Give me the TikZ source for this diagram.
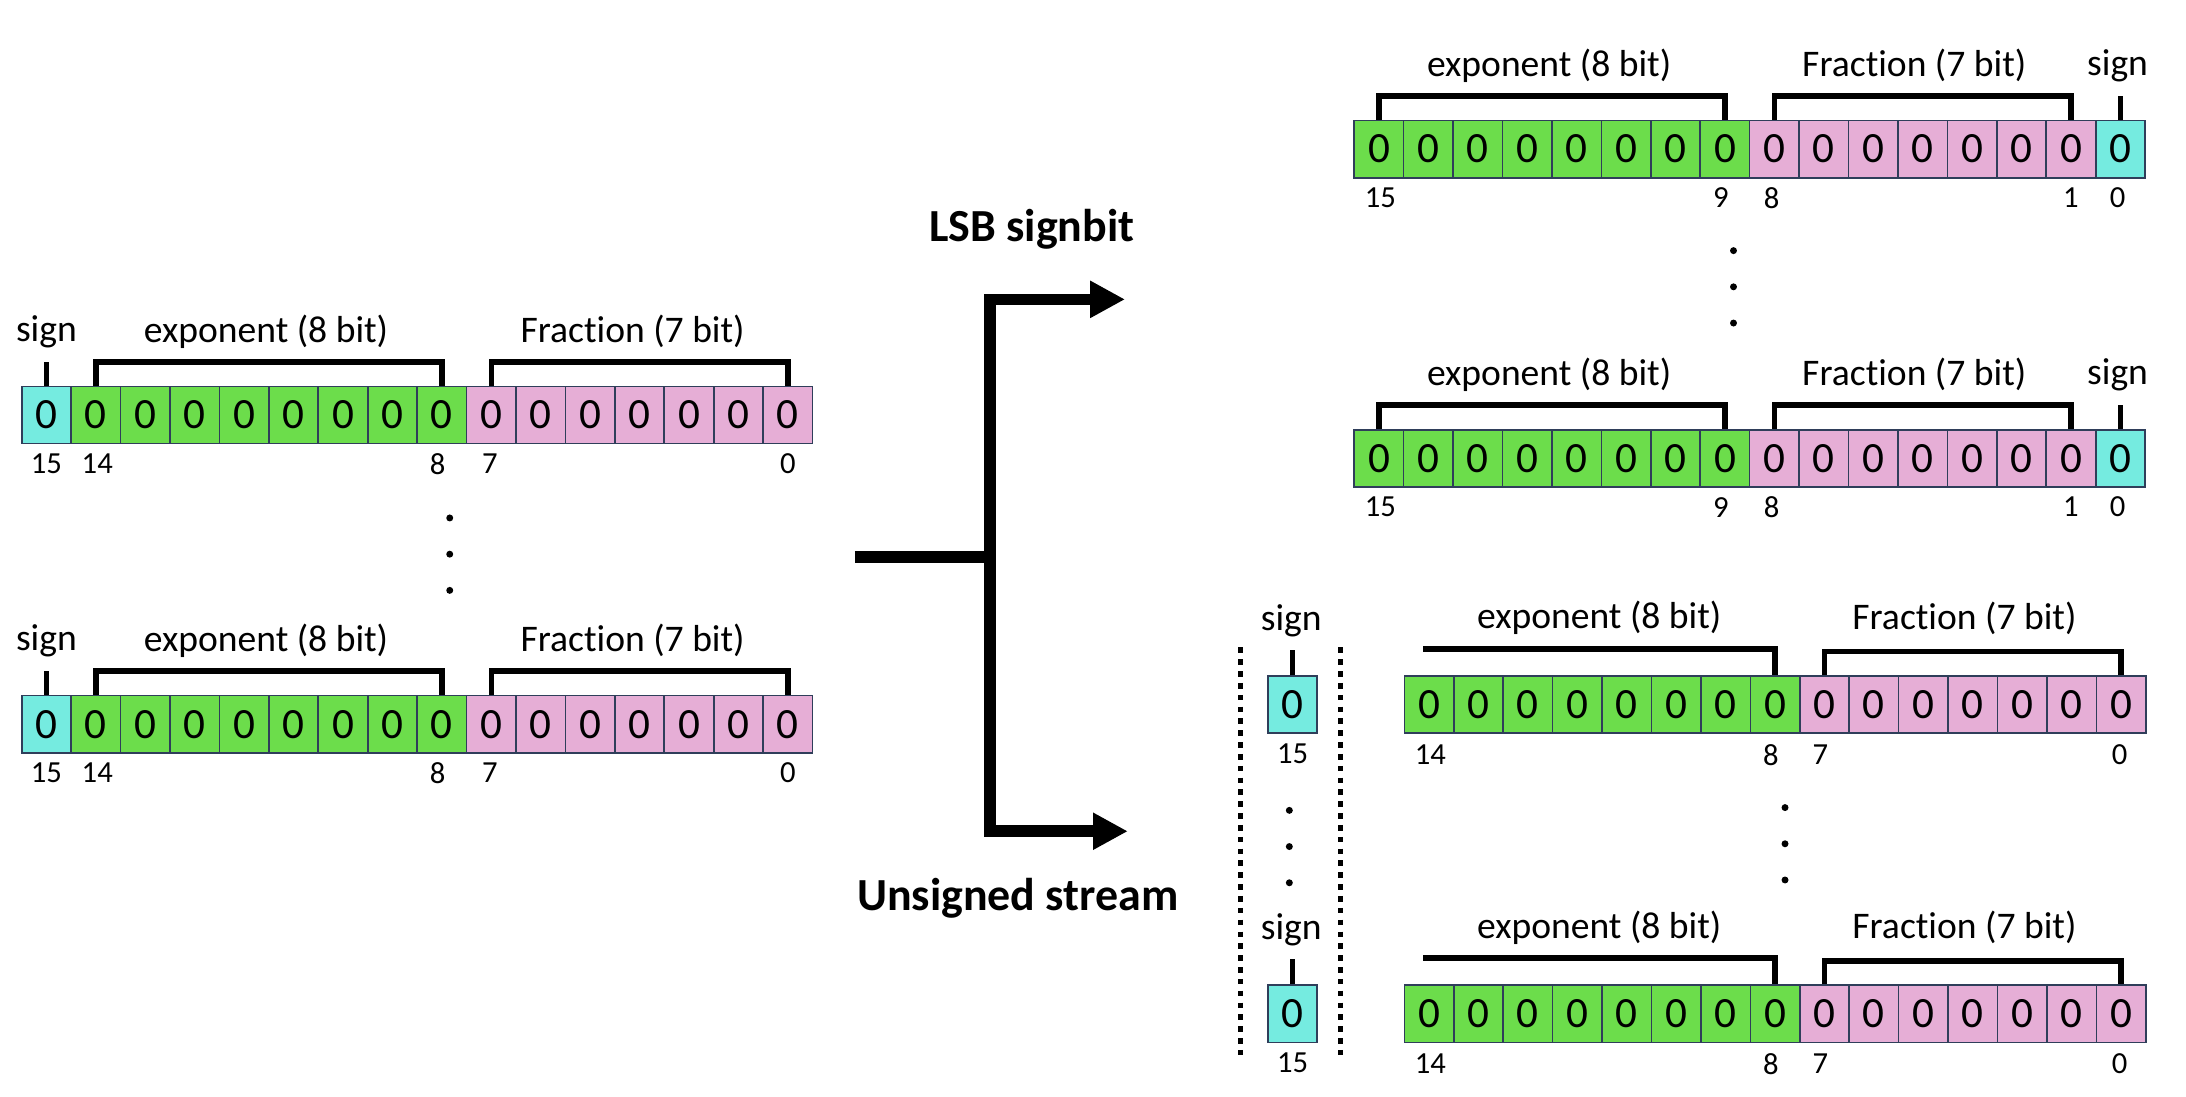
\documentclass[tikz,border=0pt]{standalone}
\usepackage{fontspec}
\setmainfont{Carlito}[Ligatures=NoCommon]
\usetikzlibrary{arrows.meta,calc}
\definecolor{cS}{HTML}{75EBE0}
\definecolor{cE}{HTML}{6CDD4B}
\definecolor{cF}{HTML}{E6AED6}
\definecolor{cB}{HTML}{2F3E5A}
\tikzset{
  cell/.style={draw=cB, line width=1.2pt, minimum width=35.5pt, minimum height=41pt,
    inner sep=0pt, anchor=north west, font=\fontsize{31}{31}\selectfont},
  bitlbl/.style={font=\fontsize{22}{22}\selectfont, inner sep=0pt},
  fieldlbl/.style={font=\fontsize{27}{28}\selectfont, inner sep=0pt},
  titlelbl/.style={font=\fontsize{33}{35}\selectfont\bfseries, inner sep=0pt},
  bracket/.style={line width=4pt, line join=miter},
  flow/.style={line width=8.3pt, line join=miter},
  flowarrow/.style={line width=8.3pt, line join=miter, -{Triangle[length=25pt,width=25pt]}},
  vdot/.style={circle, fill=black, inner sep=0pt, minimum size=5pt},
  sep/.style={line width=3.5pt, dash pattern=on 4pt off 4.5pt},
}
\newcommand\bitreg[4]{%
  \foreach \c [count=\k from 0] in {#4} {
    \node[cell, fill=\c] (#1c\k) at ({#2+35.5*\k},#3) {0};
  }%
}
\begin{document}
\begin{tikzpicture}[x=1pt,y=-1pt]
\useasboundingbox (0,0) rectangle (1570,787.2);

% ---------- left registers ----------
\foreach \r/\t in {LA/277, LB/499} {
  \bitreg{\r}{15}{\t}{cS,cE,cE,cE,cE,cE,cE,cE,cE,cF,cF,cF,cF,cF,cF,cF}
  \draw[bracket] (\r c0.north) -- ++(0,-17);
  \draw[bracket] (\r c1.north) -- ++(0,-17) -| (\r c8.north);
  \draw[bracket] (\r c9.north) -- ++(0,-17) -| (\r c15.north);
  \node[fieldlbl] (\r sign) at ($(\r c0.north)+(0,-39)$) {sign};
  \node[fieldlbl] (\r exp) at ($(\r c1.north)!0.5!(\r c8.north)+(-2,-39)$) {exponent (8 bit)};
  \node[fieldlbl] (\r frac) at ($(\r c9.north)!0.5!(\r c15.north)+(-5,-39)$) {Fraction (7 bit)};
  \node[bitlbl] (\r b15) at ($(\r c0.south)+(0,14)$) {15};
  \node[bitlbl] (\r b14) at ($(\r c1.south)+(1,14)$) {14};
  \node[bitlbl] (\r b8) at ($(\r c8.south)+(-3,14)$) {8};
  \node[bitlbl] (\r b7) at ($(\r c9.south)+(-1,14)$) {7};
  \node[bitlbl] (\r b0) at ($(\r c15.south)+(0,14)$) {0};
}
\foreach \y [count=\i] in {372,398,424} \node[vdot] (ld\i) at (323,\y) {};

% ---------- right LSB-signbit registers ----------
\foreach \r/\t in {RA/86, RB/308} {
  \bitreg{\r}{972}{\t}{cE,cE,cE,cE,cE,cE,cE,cE,cF,cF,cF,cF,cF,cF,cF,cS}
  \draw[bracket] (\r c0.north) -- ++(0,-17) -| (\r c7.north);
  \draw[bracket] (\r c8.north) -- ++(0,-17) -| (\r c14.north);
  \draw[bracket] (\r c15.north) -- ++(0,-17);
  \node[fieldlbl] (\r exp) at ($(\r c0.north)!0.5!(\r c7.north)+(-2,-39)$) {exponent (8 bit)};
  \node[fieldlbl] (\r frac) at ($(\r c8.north)!0.5!(\r c14.north)+(-6,-39)$) {Fraction (7 bit)};
  \node[fieldlbl] (\r sign) at ($(\r c15.north)+(-2,-39)$) {sign};
  \node[bitlbl] (\r b15) at ($(\r c0.south)+(1,14)$) {15};
  \node[bitlbl] (\r b9) at ($(\r c7.south)+(-3,14)$) {9};
  \node[bitlbl] (\r b8) at ($(\r c8.south)+(-2,14)$) {8};
  \node[bitlbl] (\r b1) at ($(\r c14.south)+(0,14)$) {1};
  \node[bitlbl] (\r b0) at ($(\r c15.south)+(-2,14)$) {0};
}
\foreach \y [count=\i] in {180,206,232} \node[vdot] (rd\i) at (1245,\y) {};

% ---------- unsigned stream ----------
\foreach \r/\t in {UA/485, UB/707} {
  \node[cell, fill=cS] (\r s) at (910,\t) {0};
  \draw[bracket] (\r s.north) -- ++(0,-18);
  \node[fieldlbl] (\r sign) at ($(\r s.north)+(-1,-39)$) {sign};
  \node[bitlbl] (\r b15) at ($(\r s.south)+(0,14)$) {15};
  \bitreg{\r}{1008}{\t}{cE,cE,cE,cE,cE,cE,cE,cE,cF,cF,cF,cF,cF,cF,cF}
  \draw[bracket] ($(\r c0.north)+(-4,-19)$) -| (\r c7.north);
  \draw[bracket] (\r c8.north) -- ++(0,-17) -| (\r c14.north);
  \node[fieldlbl] (\r exp) at ($(\r c0.north)!0.5!(\r c7.north)+(-2,-41)$) {exponent (8 bit)};
  \node[fieldlbl] (\r frac) at ($(\r c8.north)!0.5!(\r c14.north)+(-6,-41)$) {Fraction (7 bit)};
  \node[bitlbl] (\r b14) at ($(\r c0.south)+(1,15)$) {14};
  \node[bitlbl] (\r b8) at ($(\r c7.south)+(-3,15)$) {8};
  \node[bitlbl] (\r b7) at ($(\r c8.south)+(-3,15)$) {7};
  \node[bitlbl] (\r b0) at ($(\r c14.south)+(-1,15)$) {0};
}
\coordinate (sepLtop) at (891,465);
\coordinate (sepLbot) at (891,760);
\coordinate (sepRtop) at (963,465);
\coordinate (sepRbot) at (963,760);
\draw[sep] (sepLtop) -- (sepLbot);
\draw[sep] (sepRtop) -- (sepRbot);
\foreach \y [count=\i] in {582,608,634} \node[vdot] (sd\i) at (926,\y) {};
\foreach \y [count=\i] in {580,606,632} \node[vdot] (ud\i) at (1282,\y) {};

% ---------- flow arrows ----------
\coordinate (stem) at (614,400);
\coordinate (junc) at (711,400);
\coordinate (tipA) at (808,215);
\coordinate (tipB) at (810,597);
\draw[flow] (stem) -- (junc);
\draw[flowarrow] (junc) |- (tipA);
\draw[flowarrow] (junc) |- (tipB);
\node[titlelbl] (lsb) at (741,165) {LSB signbit};
\node[titlelbl] (uns) at (731,645) {Unsigned stream};
\end{tikzpicture}
\end{document}
